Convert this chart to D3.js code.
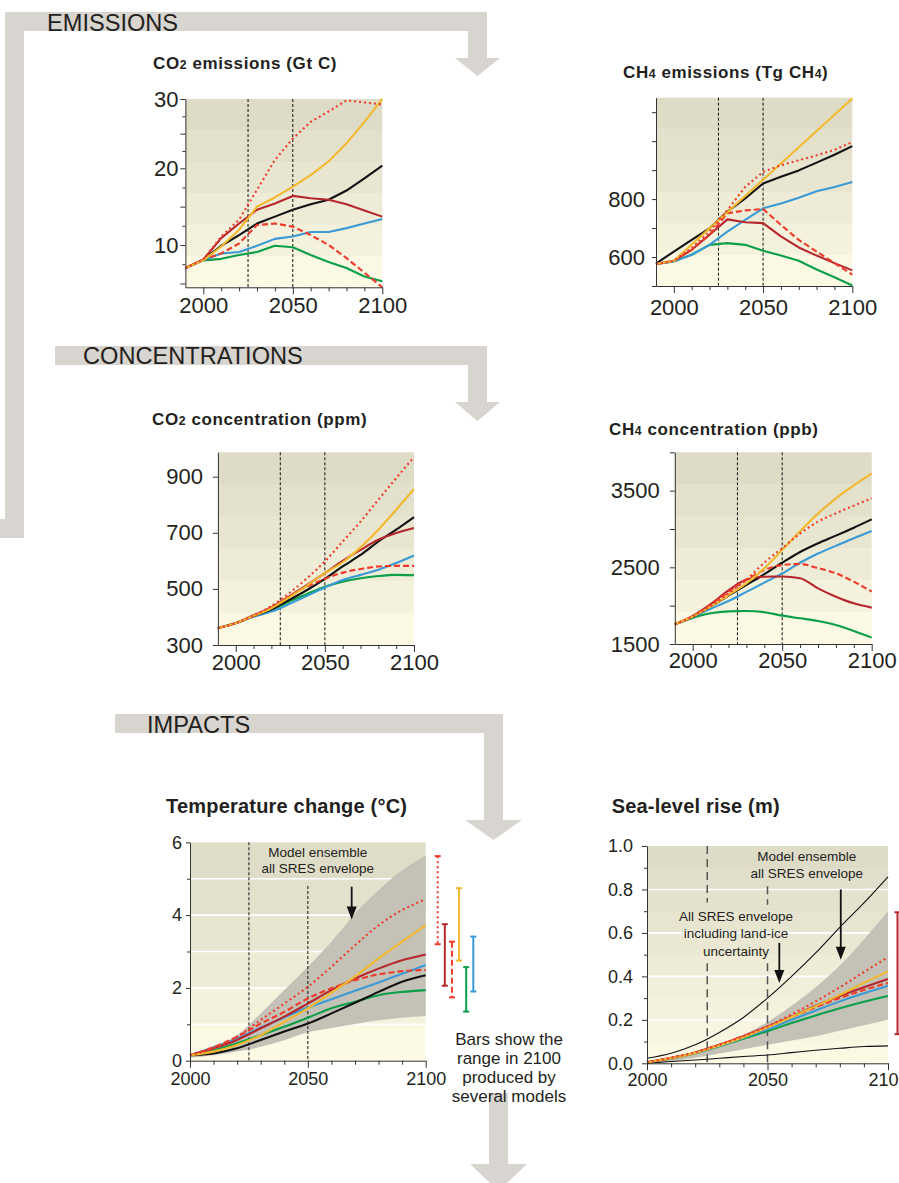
<!DOCTYPE html>
<html><head><meta charset="utf-8">
<script src="https://cdn.jsdelivr.net/npm/d3@7"></script>
<style>
body{margin:0;background:#fff;}
svg{display:block;font-family:"Liberation Sans", Arial, Helvetica, sans-serif;}
</style></head><body>
<svg id="chart" width="899" height="1183"></svg>
<script>
// ---------------- DATA ----------------
const yearsLong = [1990,2000,2010,2020,2030,2040,2050,2060,2070,2080,2090,2100];
const yearsShort = [2000,2010,2020,2030,2040,2050,2060,2070,2080,2090,2100];
const scenarios = ["B1","B2","IS92a","A1B","A1T","A2","A1FI"];

// CO2 emissions (Gt C)
const co2EmA1B  = [7.0,8.1,10.9,12.8,14.6,15.4,16.4,16.1,15.9,15.3,14.5,13.7];
const co2EmA1T  = [7.0,8.1,8.9,10.2,12.6,12.8,12.4,11.3,10.0,8.3,6.4,4.5];
const co2EmA1FI = [7.0,8.1,11.1,13.3,17.2,21.2,24.3,26.7,28.2,29.8,29.5,29.2];
const co2EmA2   = [7.0,8.0,9.8,12.0,15.0,16.2,17.6,19.1,21.0,23.6,26.7,30.0];
const co2EmB1   = [7.0,8.0,8.2,8.7,9.1,9.9,9.7,8.7,7.8,7.0,5.9,5.3];
const co2EmB2   = [7.0,8.0,8.9,9.1,9.9,10.8,11.1,11.7,11.7,12.2,12.8,13.4];
const co2EmIS92a= [7.0,8.1,9.9,11.3,12.8,13.7,14.6,15.3,15.9,17.1,18.7,20.4];

// CH4 emissions (Tg CH4)
const ch4EmA1B  = [576,587,625,677,730,720,717,671,633,605,579,554];
const ch4EmA1T  = [576,587,625,677,751,761,766,711,659,619,579,539];
const ch4EmA1FI = [576,587,631,688,762,842,894,917,934,951,970,997];
const ch4EmA2   = [576,587,643,699,755,811,867,923,979,1035,1091,1147];
const ch4EmB1   = [576,585,608,642,648,642,622,605,587,557,530,502];
const ch4EmB2   = [576,585,608,642,688,728,768,785,805,827,842,859];
const ch4EmIS92a= [577,619,659,699,757,802,854,877,899,926,953,983];

// CO2 concentration (ppm)
const co2CoA1B  = [360,378,406,434,473,514,556,600,639,675,699,717];
const co2CoA1T  = [360,378,405,434,473,508,536,558,571,580,582,582];
const co2CoA1FI = [360,378,405,439,485,538,598,669,740,818,895,970];
const co2CoA2   = [360,378,404,431,470,512,556,595,648,711,782,856];
const co2CoB1   = [360,378,402,425,455,482,508,526,538,546,550,549];
const co2CoB2   = [360,378,401,419,446,475,505,532,550,568,592,619];
const co2CoIS92a= [360,378,403,427,461,496,536,580,621,669,711,756];

// CH4 concentration (ppb)
const ch4CoA1B  = [1757,1865,2020,2200,2340,2378,2380,2357,2226,2117,2030,1974];
const ch4CoA1T  = [1757,1860,2010,2180,2335,2465,2530,2543,2490,2422,2313,2183];
const ch4CoA1FI = [1757,1857,1995,2161,2340,2560,2750,2940,3096,3204,3304,3400];
const ch4CoA2   = [1757,1857,1987,2139,2291,2487,2726,2970,3200,3400,3570,3726];
const ch4CoB1   = [1757,1840,1900,1925,1930,1915,1870,1835,1800,1748,1670,1583];
const ch4CoB2   = [1757,1850,1960,2060,2180,2300,2420,2560,2680,2780,2880,2974];
const ch4CoIS92a= [1757,1857,1990,2130,2270,2410,2560,2700,2813,2913,3017,3126];

// Temperature change (°C)
const tempA1B  = [0.15,0.34,0.57,0.89,1.21,1.57,1.94,2.26,2.53,2.76,2.92];
const tempA1T  = [0.15,0.37,0.66,1.02,1.34,1.71,1.99,2.21,2.37,2.46,2.49];
const tempA1FI = [0.15,0.34,0.66,1.12,1.57,2.03,2.58,3.17,3.72,4.14,4.43];
const tempA2   = [0.15,0.25,0.43,0.70,1.07,1.44,1.87,2.31,2.81,3.27,3.72];
const tempB1   = [0.15,0.29,0.48,0.70,0.93,1.18,1.44,1.62,1.80,1.89,1.94];
const tempB2   = [0.15,0.37,0.61,0.91,1.19,1.46,1.69,1.92,2.15,2.39,2.63];
const tempIS92a= [0.15,0.20,0.34,0.57,0.80,1.02,1.30,1.59,1.89,2.17,2.35];
const tempEnvHigh = [0.15,0.38,0.70,1.30,1.94,2.58,3.27,4.04,4.68,5.23,5.64];
const tempEnvLow  = [0.08,0.15,0.25,0.38,0.56,0.78,0.90,1.01,1.11,1.18,1.23];
const tempRangeScen = ["A1FI","A1B","A1T","A2","B1","B2"];
const tempRangeLow  = [3.20,2.06,1.74,2.75,1.35,1.90];
const tempRangeHigh = [5.62,3.75,3.27,4.74,2.57,3.41];

// Sea-level rise (m)
const slA1B  = [0.005,0.025,0.050,0.085,0.125,0.170,0.215,0.265,0.310,0.350,0.388];
const slA1T  = [0.005,0.025,0.050,0.085,0.125,0.168,0.213,0.258,0.300,0.337,0.370];
const slA1FI = [0.005,0.025,0.050,0.085,0.125,0.170,0.225,0.285,0.350,0.420,0.488];
const slA2   = [0.005,0.023,0.048,0.082,0.120,0.165,0.213,0.263,0.315,0.370,0.423];
const slB1   = [0.005,0.022,0.046,0.078,0.113,0.148,0.185,0.220,0.253,0.283,0.310];
const slB2   = [0.005,0.023,0.047,0.080,0.118,0.157,0.200,0.243,0.285,0.322,0.357];
const slEnvHigh = [0.010,0.025,0.050,0.085,0.130,0.190,0.265,0.350,0.450,0.570,0.700];
const slEnvLow  = [0.000,0.008,0.025,0.045,0.065,0.085,0.105,0.125,0.150,0.175,0.200];
const slIceHigh = [0.023,0.046,0.085,0.142,0.211,0.300,0.400,0.508,0.626,0.738,0.858];
const slIceLow  = [0.000,0.008,0.015,0.023,0.031,0.038,0.049,0.060,0.069,0.077,0.080];
const slRangeScen = ["A1B"];
const slRangeLow  = [0.134];
const slRangeHigh = [0.695];

// ---------------- STYLE ----------------
const TXT = "#231f20";
const scenColor = {A1B:"#b5272d", A1T:"#ee3b2b", A1FI:"#ee3b2b", A2:"#f2b92f", B1:"#0a9f48", B2:"#3a9ad6", IS92a:"#111111"};
const scenDash = {A1T:"6,3", A1FI:"2,3"};
const bands6 = ["#dedbc7","#e3e0cc","#e8e5d1","#eeebd6","#f4f1dc","#fbf8e4"];

const svg = d3.select("#chart");

// ---------------- FLOW ARROWS ----------------
const flow = svg.append("g").attr("fill","#d8d4cf");
function rect(x,y,w,h){flow.append("rect").attr("x",x).attr("y",y).attr("width",w).attr("height",h);}
function tri(x1,x2,y1,y2){flow.append("path").attr("d",`M${x1},${y1}L${x2},${y1}L${(x1+x2)/2},${y2}Z`);}
rect(5,12,482,19); rect(5,12,19,526); rect(0,519,24,19); rect(468,12,19,46); tri(455,500,58,76);
rect(55,346,432,19); rect(468,346,19,56); tri(455,500,402,421);
rect(115,714,388,19); rect(484,714,19,106); tri(465,522,820,840);
rect(489,1093,19,72); tri(470,527,1164,1191);

function section(x,y,t){svg.append("text").attr("x",x).attr("y",y).attr("font-size",23.6).attr("fill",TXT).text(t);}
section(47,31,"EMISSIONS");
section(83,364,"CONCENTRATIONS");
section(147,733,"IMPACTS");

function title(x,y,parts,size,ls){
  const t = svg.append("text").attr("x",x).attr("y",y).attr("font-size",size).attr("font-weight","bold")
    .attr("fill",TXT).attr("letter-spacing",ls);
  parts.forEach(([s,sub]) => t.append("tspan").text(s).attr("font-size", sub ? size*0.72 : null));
}
title(153,68.5,[["CO"],["2",1],[" emissions (Gt C)"]],17,0.6);
title(623,78,[["CH"],["4",1],[" emissions (Tg CH"],["4",1],[")"]],17,0.6);
title(152,425,[["CO"],["2",1],[" concentration (ppm)"]],17,0.6);
title(609,435,[["CH"],["4",1],[" concentration (ppb)"]],17,0.6);
title(166,813,[["Temperature change (°C)"]],20,0.2);
title(611.7,813,[["Sea-level rise (m)"]],20,0.2);

// ---------------- PANELS ----------------
function panel(c){
  const g = svg.append("g");
  const x = d3.scaleLinear().domain(c.xDomain).range(c.xRange);
  const y = d3.scaleLinear().domain(c.yDomain).range(c.yRange);
  const left = x(c.xDomain[0]), right = x(c.xDomain[1]);
  const top = d3.min(c.yRange), bottom = d3.max(c.yRange);
  if (c.bandValues) {
    c.bandColors.forEach((col,i)=>{
      const v1=c.bandValues[i], v0=c.bandValues[i+1];
      g.append("rect").attr("x",left).attr("width",right-left).attr("y",y(v1)).attr("height",y(v0)-y(v1)+0.5).attr("fill",col);
    });
  } else {
    const n=c.bandColors.length, h=(bottom-top)/n;
    c.bandColors.forEach((col,i)=>g.append("rect").attr("x",left).attr("y",top+i*h).attr("width",right-left).attr("height",h+0.5).attr("fill",col));
  }
  if (c.grid) c.grid.forEach(v=>g.append("line").attr("x1",left).attr("x2",right).attr("y1",y(v)).attr("y2",y(v)).attr("stroke","#fff").attr("stroke-width",1.6));
  return {g,x,y,left,right,top,bottom,c};
}

function axes(p){
  const {g,x,y,left,bottom,c} = p;
  const fs = c.fs;
  if (c.yMinor) g.append("g").attr("transform",`translate(${left},0)`).attr("color","#333")
    .call(d3.axisLeft(y).tickValues(c.yMinor).tickSize(3).tickFormat("").tickSizeOuter(0))
    .call(s=>s.select(".domain").remove());
  g.append("g").attr("transform",`translate(${left},0)`).attr("color","#333")
    .call(d3.axisLeft(y).tickValues(c.yTicks).tickSize(c.yTick).tickPadding(c.yPad).tickSizeOuter(0)
      .tickFormat(d => c.yLabels.includes(d) ? c.yFmt(d) : ""))
    .call(s=>s.selectAll("text").attr("font-size",fs).attr("fill",TXT).attr("font-family","inherit"));
  g.append("g").attr("transform",`translate(0,${bottom})`).attr("color","#333")
    .call(d3.axisBottom(x).tickValues(d3.range(2010,2100,10).filter(v=>v!==2050)).tickSize(4).tickFormat("").tickSizeOuter(0))
    .call(s=>s.select(".domain").remove());
  g.append("g").attr("transform",`translate(0,${bottom})`).attr("color","#333")
    .call(d3.axisBottom(x).tickValues([2000,2050,2100]).tickSize(7).tickSizeOuter(0).tickFormat(d3.format("d")))
    .call(s=>s.selectAll("text").attr("font-size",fs).attr("fill",TXT).attr("font-family","inherit").attr("y",c.xLabBase).attr("dy",null));
}

function vlines(p, specs, stroke, width, dash){
  specs.forEach(([yr,v0,v1])=>{
    p.g.append("line").attr("x1",p.x(yr)).attr("x2",p.x(yr))
      .attr("y1", v0==null ? p.top : p.y(v0)).attr("y2", v1==null ? p.bottom : p.y(v1))
      .attr("stroke",stroke).attr("stroke-width",width).attr("stroke-dasharray",dash);
  });
}

function series(p, years, table, curve){
  scenarios.forEach(name=>{
    const vals = table[name]; if(!vals) return;
    p.g.append("path").datum(vals.map((v,i)=>[years[i],v]))
      .attr("d", d3.line().x(d=>p.x(d[0])).y(d=>p.y(d[1])).curve(curve))
      .attr("fill","none").attr("stroke",scenColor[name]).attr("stroke-width",2.1)
      .attr("stroke-dasharray",scenDash[name]||null).attr("stroke-linejoin","round");
  });
}

function envelope(p, years, lo, hi, fill){
  p.g.append("path").datum(years.map((yr,i)=>[yr,lo[i],hi[i]]))
    .attr("d", d3.area().x(d=>p.x(d[0])).y0(d=>p.y(d[1])).y1(d=>p.y(d[2])).curve(d3.curveMonotoneX))
    .attr("fill",fill);
}

function arrow(p, yr, v0, v1){
  const x=p.x(yr), y0=p.y(v0), y1=p.y(v1);
  p.g.append("line").attr("x1",x).attr("x2",x).attr("y1",y0).attr("y2",y1-10).attr("stroke","#111").attr("stroke-width",1.8);
  p.g.append("path").attr("d",`M${x-5},${y1-13}L${x+5},${y1-13}L${x},${y1}Z`).attr("fill","#111");
}

function note(x, y0, lh, lines){
  const t = svg.append("text").attr("x",x).attr("y",y0).attr("font-size",13.5).attr("fill",TXT).attr("text-anchor","middle");
  lines.forEach((l,i)=>t.append("tspan").attr("x",x).attr("y",y0+i*lh).text(l));
}

// Panel 1: CO2 emissions
const p1 = panel({xDomain:[1990,2100], xRange:[185.4,382.3], yDomain:[4.5,10,20,30], yRange:[287.3,245,168.3,99], bandColors:bands6});
vlines(p1, [[2025],[2050]], "#111", 1, "3,2");
series(p1, yearsLong, {A1B:co2EmA1B,A1T:co2EmA1T,A1FI:co2EmA1FI,A2:co2EmA2,B1:co2EmB1,B2:co2EmB2,IS92a:co2EmIS92a}, d3.curveLinear);
Object.assign(p1.c,{fs:22,yTicks:[5,10,15,20,25,30],yLabels:[10,20,30],yMinor:[7.5,12.5,17.5,22.5,27.5],yTick:5,yPad:2,yFmt:d3.format("d"),xLabBase:26});
axes(p1);

// Panel 2: CH4 emissions
const p2 = panel({xDomain:[1990,2100], xRange:[656,852.3], yDomain:[500,1150], yRange:[286,97.7], bandColors:bands6});
vlines(p2, [[2025],[2050]], "#111", 1, "3,2");
series(p2, yearsLong, {A1B:ch4EmA1B,A1T:ch4EmA1T,A1FI:ch4EmA1FI,A2:ch4EmA2,B1:ch4EmB1,B2:ch4EmB2,IS92a:ch4EmIS92a}, d3.curveLinear);
Object.assign(p2.c,{fs:22,yTicks:[500,600,700,800,900,1000,1100],yLabels:[600,800],yTick:4,yPad:7,yFmt:d3.format("d"),xLabBase:29});
axes(p2);

// Panel 3: CO2 concentration
const p3 = panel({xDomain:[1990,2100], xRange:[217.9,414], yDomain:[300,987], yRange:[645,452.3], bandColors:bands6});
vlines(p3, [[2025],[2050]], "#111", 1, "3,2");
series(p3, yearsLong, {A1B:co2CoA1B,A1T:co2CoA1T,A1FI:co2CoA1FI,A2:co2CoA2,B1:co2CoB1,B2:co2CoB2,IS92a:co2CoIS92a}, d3.curveMonotoneX);
Object.assign(p3.c,{fs:22,yTicks:[300,500,700,900],yLabels:[300,500,700,900],yTick:5,yPad:10,yFmt:d3.format("d"),xLabBase:25});
axes(p3);

// Panel 4: CH4 concentration
const p4 = panel({xDomain:[1990,2100], xRange:[674.8,871.7], yDomain:[1500,4000], yRange:[644,452.3], bandColors:bands6});
vlines(p4, [[2025],[2050]], "#111", 1, "3,2");
series(p4, yearsLong, {A1B:ch4CoA1B,A1T:ch4CoA1T,A1FI:ch4CoA1FI,A2:ch4CoA2,B1:ch4CoB1,B2:ch4CoB2,IS92a:ch4CoIS92a}, d3.curveMonotoneX);
Object.assign(p4.c,{fs:22,yTicks:[1500,2000,2500,3000,3500,4000],yLabels:[1500,2500,3500],yTick:5,yPad:10,yFmt:d3.format("d"),xLabBase:24});
axes(p4);

// Panel 5: Temperature change
const p5 = panel({xDomain:[2000,2100], xRange:[190,425.7], yDomain:[0,6], yRange:[1060.7,842.3],
  bandValues:[6,5,4,3,2,1,0], bandColors:["#dfdcc8","#e3e0cc","#e8e5d1","#eeebd6","#f4f1dc","#fcf9e4"], grid:[1,2,3,4,5]});
envelope(p5, yearsShort, tempEnvLow, tempEnvHigh, "#c4c1b6");
vlines(p5, [[2025],[2050,4.8,null]], "#111", 1, "3,2");
series(p5, yearsShort, {A1B:tempA1B,A1T:tempA1T,A1FI:tempA1FI,A2:tempA2,B1:tempB1,B2:tempB2,IS92a:tempIS92a}, d3.curveMonotoneX);
Object.assign(p5.c,{fs:18,yTicks:[0,2,4,6],yLabels:[0,2,4,6],yMinor:[1,3,5],yTick:4,yPad:4,yFmt:d3.format("d"),xLabBase:24.3});
axes(p5);
arrow(p5, 2068.6, 4.78, 3.88);
note(317.7, 856.7, 16.6, ["Model ensemble","all SRES envelope"]);

// range bars (temperature)
const barX = d3.scalePoint().domain(tempRangeScen).range([437.7,473.3]);
tempRangeScen.forEach((s,i)=>{
  const bx = barX(s), yl = p5.y(tempRangeLow[i]), yh = p5.y(tempRangeHigh[i]);
  const bg = svg.append("g").attr("stroke",scenColor[s]).attr("stroke-width",2);
  bg.append("line").attr("x1",bx).attr("x2",bx).attr("y1",yh).attr("y2",yl).attr("stroke-dasharray",scenDash[s]||null);
  bg.append("line").attr("x1",bx-3).attr("x2",bx+3).attr("y1",yh).attr("y2",yh);
  bg.append("line").attr("x1",bx-3).attr("x2",bx+3).attr("y1",yl).attr("y2",yl);
});
{
  const t = svg.append("text").attr("font-size",17).attr("fill",TXT).attr("text-anchor","middle");
  ["Bars show the","range in 2100","produced by","several models"].forEach((l,i)=>
    t.append("tspan").attr("x",509).attr("y",1045+i*19).text(l));
}

// Panel 6: Sea-level rise
const p6 = panel({xDomain:[2000,2100], xRange:[647,888], yDomain:[0,1], yRange:[1063.3,846],
  bandValues:[1,0.9,0.8,0.7,0.6,0.5,0.4,0.3,0.2,0.1,0],
  bandColors:["#dedbc7","#e1decb","#e4e1cd","#e7e4d0","#eae7d3","#eeebd6","#f1eed9","#f4f1dc","#f7f4df","#fbf8e4"], grid:[0.2,0.4,0.6,0.8]});
envelope(p6, yearsShort, slEnvLow, slEnvHigh, "#c4c1b6");
vlines(p6, [[2025,1,0.74],[2025,0.46,0],[2050,0.815,0.73],[2050,0.46,0]], "#555", 1.5, "8,5");
[slIceHigh, slIceLow].forEach(arr=>{
  p6.g.append("path").datum(arr.map((v,i)=>[yearsShort[i],v]))
    .attr("d", d3.line().x(d=>p6.x(d[0])).y(d=>p6.y(d[1])).curve(d3.curveMonotoneX))
    .attr("fill","none").attr("stroke","#111").attr("stroke-width",1.1);
});
series(p6, yearsShort, {A1B:slA1B,A1T:slA1T,A1FI:slA1FI,A2:slA2,B1:slB1,B2:slB2}, d3.curveMonotoneX);
Object.assign(p6.c,{fs:18,yTicks:[0,0.2,0.4,0.6,0.8,1.0],yLabels:[0,0.2,0.4,0.6,0.8,1.0],yMinor:[0.1,0.3,0.5,0.7,0.9],yTick:5,yPad:9,yFmt:d3.format(".1f"),xLabBase:22.7});
axes(p6);
arrow(p6, 2080.4, 0.80, 0.477);
arrow(p6, 2054.9, 0.554, 0.369);
note(806.7, 861, 17.3, ["Model ensemble","all SRES envelope"]);
note(736, 920.7, 17.5, ["All SRES envelope","including land-ice","uncertainty"]);
slRangeScen.forEach((s,i)=>{
  const bx = 897.5, yl = p6.y(slRangeLow[i]), yh = p6.y(slRangeHigh[i]);
  const bg = svg.append("g").attr("stroke",scenColor[s]).attr("stroke-width",2);
  bg.append("line").attr("x1",bx).attr("x2",bx).attr("y1",yh).attr("y2",yl);
  bg.append("line").attr("x1",bx-3).attr("x2",bx+3).attr("y1",yh).attr("y2",yh);
  bg.append("line").attr("x1",bx-3).attr("x2",bx+3).attr("y1",yl).attr("y2",yl);
});
</script>
</body></html>
